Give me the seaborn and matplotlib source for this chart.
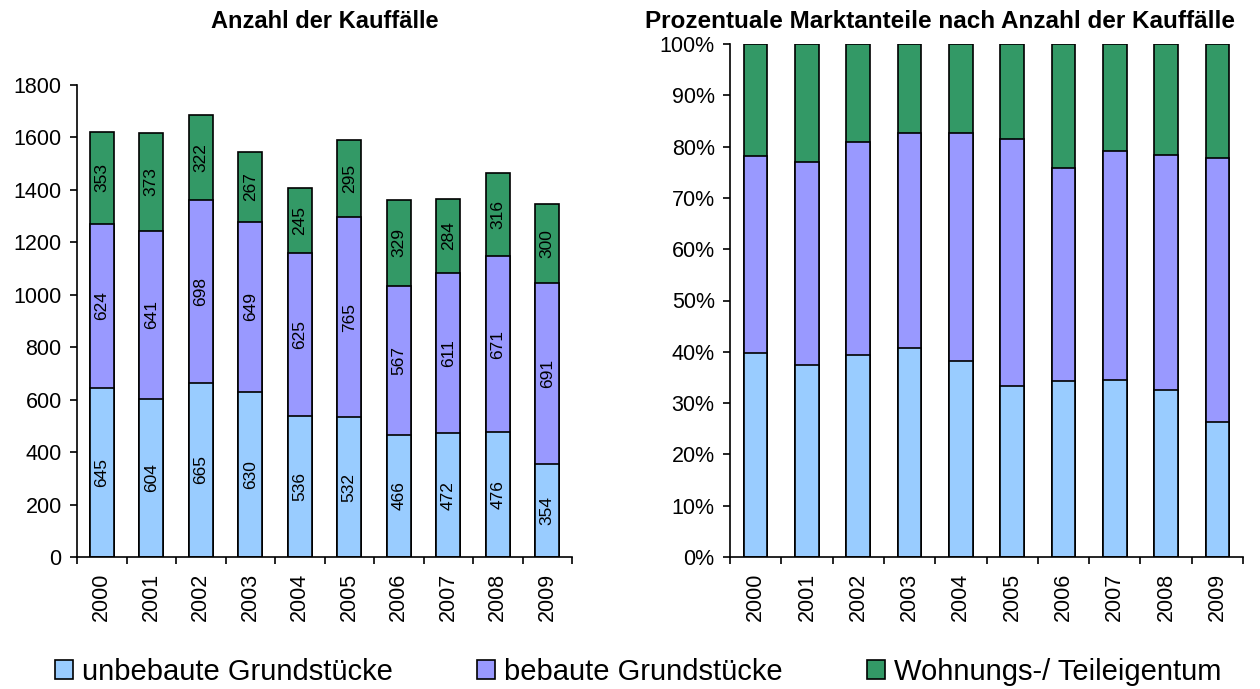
import numpy as np
import pandas as pd
import matplotlib
matplotlib.use("Agg")
import matplotlib.pyplot as plt
import seaborn as sns
from matplotlib.patches import Patch
from matplotlib.ticker import FixedLocator, FuncFormatter

years = ["2000", "2001", "2002", "2003", "2004", "2005", "2006", "2007", "2008", "2009"]
unbebaut = [645, 604, 665, 630, 536, 532, 466, 472, 476, 354]
bebaut = [624, 641, 698, 649, 625, 765, 567, 611, 671, 691]
wohnung = [353, 373, 322, 267, 245, 295, 329, 284, 316, 300]
series_names = ["unbebaute Grundstücke", "bebaute Grundstücke", "Wohnungs-/ Teileigentum"]
colors = ["#99CCFF", "#9999FF", "#339966"]
title_left = "Anzahl der Kauffälle"
title_right = "Prozentuale Marktanteile nach Anzahl der Kauffälle"

sns.set_theme(style="white")
plt.rcParams["font.family"] = ["Liberation Sans", "DejaVu Sans"]
for k in ["text.color", "axes.labelcolor", "xtick.color", "ytick.color", "axes.edgecolor"]:
    plt.rcParams[k] = "black"

df = pd.DataFrame({"year": years, "u": unbebaut, "b": bebaut, "w": wohnung})
df["total"] = df["u"] + df["b"] + df["w"]
df["c1"] = df["u"]
df["c2"] = df["u"] + df["b"]
df["c3"] = df["total"]
pct = df[["u", "b", "w"]].div(df["total"], axis=0) * 100
pct["p1"] = pct["u"]
pct["p2"] = pct["u"] + pct["b"]
pct["p3"] = pct["u"] + pct["b"] + pct["w"]
pct["year"] = years

fig = plt.figure(figsize=(12.6, 6.89), dpi=100)
axL = fig.add_axes([77 / 1260, 1 - 557 / 689, (572 - 77) / 1260, (557 - 85) / 689])
axR = fig.add_axes([730 / 1260, 1 - 557 / 689, (1243 - 730) / 1260, (557 - 44) / 689])

for col, c in zip(["c3", "c2", "c1"], colors[::-1]):
    sns.barplot(data=df, x="year", y=col, order=years, color=c, width=0.485,
                edgecolor="black", linewidth=1.2, saturation=1, ax=axL)
for col, c in zip(["p3", "p2", "p1"], colors[::-1]):
    sns.barplot(data=pct, x="year", y=col, order=years, color=c, width=0.46,
                edgecolor="black", linewidth=1.2, saturation=1, ax=axR)

# segment labels on the left chart
for i in range(len(years)):
    bottoms = [0, df["c1"][i], df["c2"][i]]
    for val, b0 in zip([unbebaut[i], bebaut[i], wohnung[i]], bottoms):
        axL.text(i, b0 + val / 2, str(val), rotation=90, ha="center", va="center",
                 fontsize=12.5, color="black")

axL.set_ylim(0, 1800)
axL.set_yticks(np.arange(0, 1801, 200))
axR.set_ylim(0, 100)
axR.set_yticks(np.arange(0, 101, 10))
axR.yaxis.set_major_formatter(FuncFormatter(lambda v, p: f"{int(v)}%"))

for ax in (axL, axR):
    ax.set_xlim(-0.5, len(years) - 0.5)
    ax.set_xlabel("")
    ax.set_ylabel("")
    for s in ["top", "right"]:
        ax.spines[s].set_visible(False)
    for s in ["left", "bottom"]:
        ax.spines[s].set_color("black")
        ax.spines[s].set_linewidth(1.2)
    ax.tick_params(axis="x", which="major", length=0, pad=11.5, labelsize=15.5, rotation=90)
    ax.xaxis.set_minor_locator(FixedLocator(np.arange(-0.5, len(years), 1.0)))
    ax.tick_params(axis="x", which="minor", length=5, width=1.2, color="black", bottom=True)
    ax.tick_params(axis="y", which="major", length=5, width=1.2, color="black", left=True,
                   labelsize=15.5, pad=6)
    ax.grid(False)

fig.text(325 / 1260, 1 - 22 / 689, title_left, ha="center", va="center",
         fontsize=17, fontweight="bold")
fig.text(940 / 1260, 1 - 21 / 689, title_right, ha="center", va="center",
         fontsize=17.5, fontweight="bold")

handles = [Patch(facecolor=c, edgecolor="black", linewidth=1.2) for c in colors]
fig.legend(handles, series_names, loc="center left", bbox_to_anchor=(55 / 1260, 1 - 672 / 689),
           ncol=3, frameon=False, fontsize=21, handlelength=0.62, handleheight=0.62,
           handletextpad=0.3, columnspacing=2.9, borderaxespad=0, borderpad=0)

fig.savefig("out.png", dpi=100, facecolor="white")
